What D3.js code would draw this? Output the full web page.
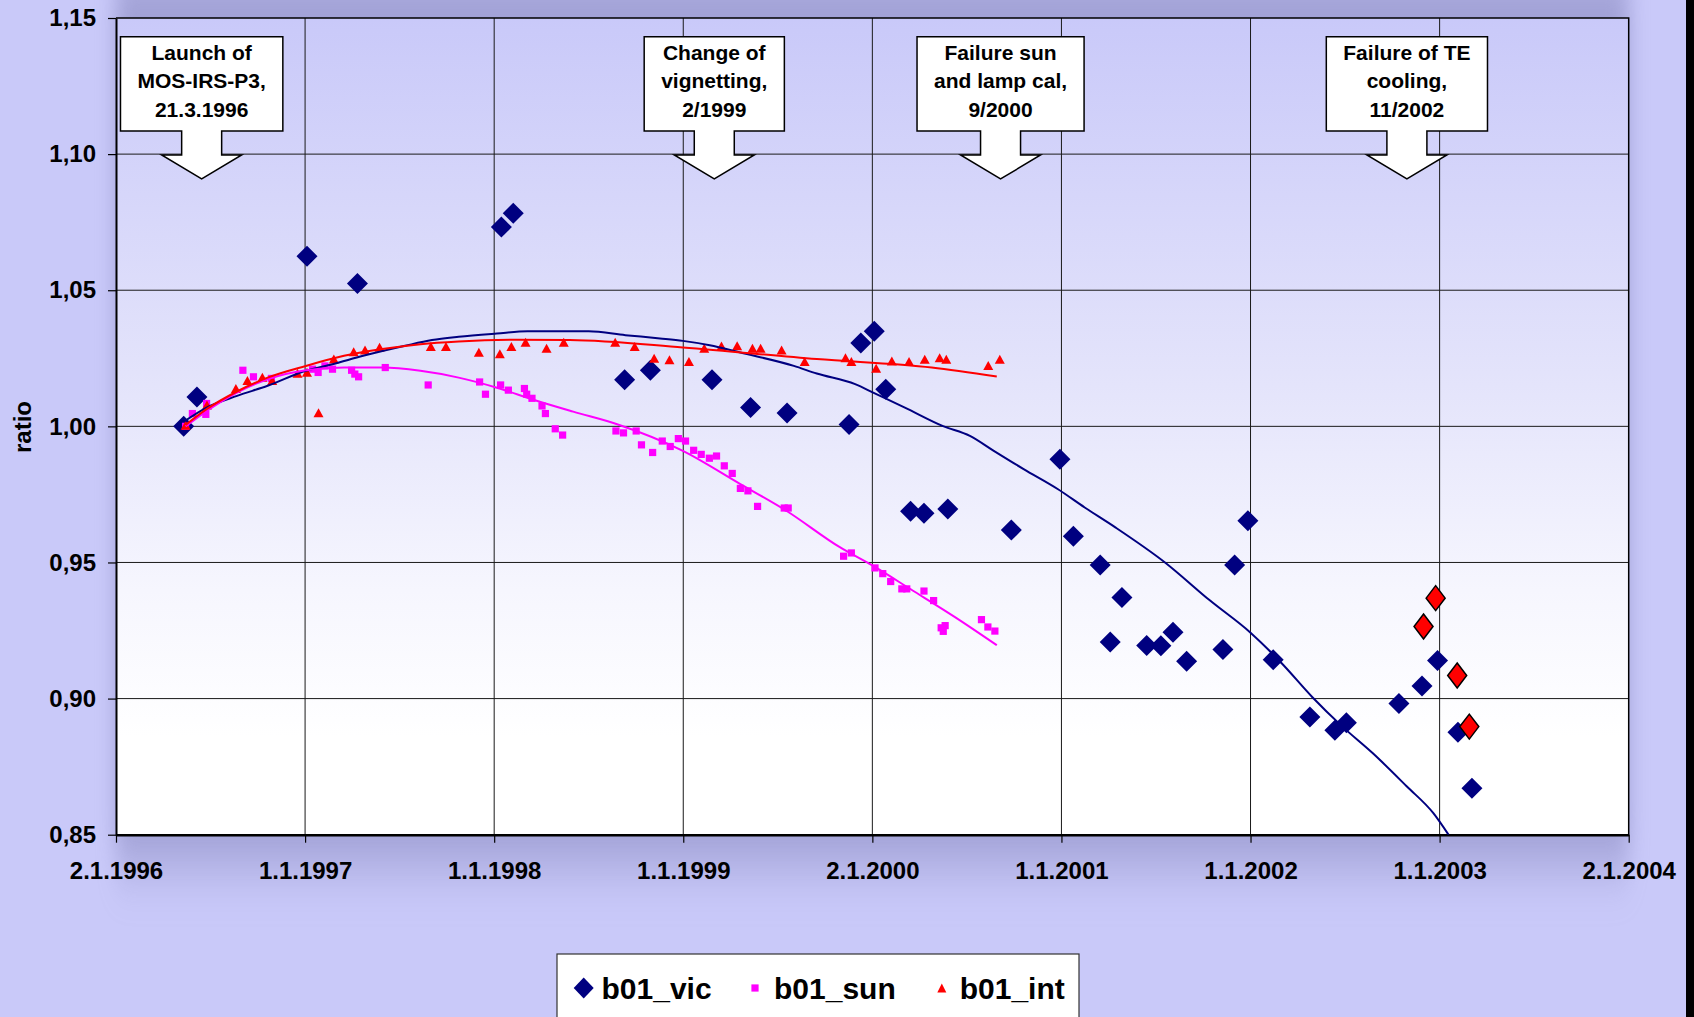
<!DOCTYPE html>
<html>
<head>
<meta charset="utf-8">
<script src="https://cdn.jsdelivr.net/npm/d3@7"></script>
<style>
  html, body { margin: 0; padding: 0; background: #c9c9f9; }
  svg { display: block; }
  text { font-family: "Liberation Sans", Arial, sans-serif; font-weight: bold; fill: #000; }
</style>
</head>
<body>
<svg id="chart" width="1694" height="1017"></svg>
<script>
// ---------------- DATA ----------------
const xTickValues = [1996, 1997, 1998, 1999, 2000, 2001, 2002, 2003, 2004];
const xTickLabels = ["2.1.1996", "1.1.1997", "1.1.1998", "1.1.1999", "2.1.2000",
                     "1.1.2001", "1.1.2002", "1.1.2003", "2.1.2004"];
const yTickValues = [0.85, 0.90, 0.95, 1.00, 1.05, 1.10, 1.15];
const yAxisTitle = "ratio";

// b01_vic : [decimal year, ratio]
const b01_vic = [
  [1996.358, 1.0000], [1996.428, 1.0108], [1997.010, 1.0625], [1997.277, 1.0525],
  [1998.038, 1.0732], [1998.101, 1.0783], [1998.690, 1.0171], [1998.826, 1.0206],
  [1999.152, 1.0171], [1999.356, 1.0069], [1999.549, 1.0049], [1999.877, 1.0007],
  [1999.939, 1.0306], [2000.010, 1.0349], [2000.071, 1.0136], [2000.202, 0.9688],
  [2000.273, 0.9681], [2000.399, 0.9696], [2000.735, 0.9619], [2000.992, 0.9879],
  [2001.063, 0.9596], [2001.205, 0.9491], [2001.320, 0.9371], [2001.258, 0.9208],
  [2001.451, 0.9195], [2001.526, 0.9194], [2001.590, 0.9244], [2001.662, 0.9137],
  [2001.854, 0.9180], [2001.916, 0.9491], [2001.986, 0.9653], [2002.120, 0.9143],
  [2002.314, 0.8932], [2002.446, 0.8884], [2002.507, 0.8911], [2002.785, 0.8982],
  [2002.907, 0.9046], [2002.989, 0.9140], [2003.097, 0.8876], [2003.171, 0.8671]
];
// b01_vic points after failure of TE cooling (highlighted red)
const b01_vic_te = [
  [2002.915, 0.9265], [2002.979, 0.9369], [2003.093, 0.9085], [2003.157, 0.8897]
];
// b01_sun
const b01_sun = [
  [1996.368, 1.0000], [1996.404, 1.0047], [1996.475, 1.0044], [1996.479, 1.0084],
  [1996.671, 1.0206], [1996.727, 1.0182], [1996.822, 1.0176], [1997.040, 1.0210],
  [1997.069, 1.0198], [1997.105, 1.0222], [1997.145, 1.0210], [1997.246, 1.0206],
  [1997.263, 1.0192], [1997.283, 1.0182], [1997.424, 1.0216], [1997.651, 1.0152],
  [1997.923, 1.0163], [1997.954, 1.0118], [1998.034, 1.0152], [1998.075, 1.0133],
  [1998.160, 1.0139], [1998.172, 1.0118], [1998.200, 1.0103], [1998.253, 1.0075],
  [1998.271, 1.0047], [1998.323, 0.9991], [1998.362, 0.9968], [1998.644, 0.9983],
  [1998.684, 0.9976], [1998.751, 0.9983], [1998.779, 0.9932], [1998.838, 0.9904],
  [1998.889, 0.9946], [1998.931, 0.9926], [1998.974, 0.9955], [1999.012, 0.9946],
  [1999.055, 0.9912], [1999.095, 0.9897], [1999.138, 0.9883], [1999.176, 0.9891],
  [1999.217, 0.9855], [1999.259, 0.9827], [1999.302, 0.9772], [1999.342, 0.9763],
  [1999.393, 0.9706], [1999.534, 0.9700], [1999.555, 0.9700], [1999.848, 0.9523],
  [1999.889, 0.9535], [2000.014, 0.9480], [2000.055, 0.9459], [2000.097, 0.9430],
  [2000.156, 0.9403], [2000.182, 0.9403], [2000.273, 0.9395], [2000.324, 0.9360],
  [2000.364, 0.9260], [2000.375, 0.9247], [2000.385, 0.9268], [2000.577, 0.9290],
  [2000.611, 0.9263], [2000.648, 0.9248]
];
// b01_int
const b01_int = [
  [1996.368, 1.0001], [1996.481, 1.0075], [1996.634, 1.0136], [1996.695, 1.0165],
  [1996.774, 1.0177], [1996.826, 1.0165], [1996.960, 1.0192], [1997.010, 1.0195],
  [1997.071, 1.0047], [1997.152, 1.0244], [1997.257, 1.0271], [1997.317, 1.0277],
  [1997.394, 1.0287], [1997.665, 1.0290], [1997.745, 1.0290], [1997.919, 1.0269],
  [1998.030, 1.0263], [1998.091, 1.0290], [1998.166, 1.0306], [1998.277, 1.0284],
  [1998.368, 1.0306], [1998.640, 1.0306], [1998.743, 1.0290], [1998.846, 1.0247],
  [1998.927, 1.0241], [1999.030, 1.0235], [1999.111, 1.0284], [1999.202, 1.0292],
  [1999.285, 1.0293], [1999.366, 1.0284], [1999.409, 1.0284], [1999.520, 1.0277],
  [1999.642, 1.0235], [1999.858, 1.0249], [1999.889, 1.0235], [2000.020, 1.0210],
  [2000.103, 1.0237], [2000.194, 1.0235], [2000.277, 1.0243], [2000.356, 1.0249],
  [2000.391, 1.0243], [2000.613, 1.0220], [2000.674, 1.0243]
];
// trend lines
const vicTrend = [
  [1996.358, 1.0017], [1996.479, 1.0069], [1996.640, 1.0112], [1996.802, 1.0149],
  [1997.004, 1.0204], [1997.145, 1.0228], [1997.307, 1.0259], [1997.529, 1.0296],
  [1997.671, 1.0317], [1997.812, 1.0329], [1998.014, 1.0341], [1998.176, 1.0349],
  [1998.500, 1.0349], [1998.694, 1.0335], [1998.877, 1.0323], [1998.998, 1.0314],
  [1999.140, 1.0298], [1999.302, 1.0271], [1999.585, 1.0222], [1999.706, 1.0194],
  [1999.909, 1.0155], [2000.010, 1.0122], [2000.172, 1.0069], [2000.374, 1.0001],
  [2000.516, 0.9965], [2000.638, 0.9912], [2000.800, 0.9843], [2000.982, 0.9769],
  [2001.123, 0.9702], [2001.285, 0.9629], [2001.546, 0.9501], [2001.786, 0.9360],
  [2002.000, 0.9242], [2002.166, 0.9129], [2002.326, 0.9006], [2002.486, 0.8897],
  [2002.647, 0.8799], [2002.827, 0.8677], [2002.967, 0.8579], [2003.047, 0.8500]
];
const sunTrend = [
  [1996.368, 1.0000], [1996.479, 1.0056], [1996.640, 1.0124], [1996.802, 1.0173],
  [1997.004, 1.0206], [1997.206, 1.0216], [1997.408, 1.0216], [1997.610, 1.0204],
  [1997.812, 1.0179], [1998.014, 1.0142], [1998.216, 1.0096], [1998.418, 1.0054],
  [1998.654, 1.0007], [1998.998, 0.9910], [1999.302, 0.9788], [1999.545, 0.9690],
  [1999.828, 0.9556], [2000.000, 0.9489], [2000.213, 0.9397], [2000.435, 0.9300],
  [2000.658, 0.9196]
];
const intTrend = [
  [1996.368, 1.0005], [1996.479, 1.0063], [1996.640, 1.0128], [1996.802, 1.0179],
  [1997.004, 1.0222], [1997.206, 1.0259], [1997.408, 1.0284], [1997.610, 1.0302],
  [1997.812, 1.0312], [1998.115, 1.0318], [1998.400, 1.0317], [1998.998, 1.0290],
  [1999.706, 1.0247], [2000.314, 1.0216], [2000.658, 1.0183]
];
// event callouts: anchor date (decimal year) + text lines
const eventDates = [1996.453, 1999.164, 2000.678, 2002.827];
const eventTexts = [
  ["Launch of", "MOS-IRS-P3,", "21.3.1996"],
  ["Change of", "vignetting,", "2/1999"],
  ["Failure sun", "and lamp cal,", "9/2000"],
  ["Failure of TE", "cooling,", "11/2002"]
];
const legendNames = ["b01_vic", "b01_sun", "b01_int"];

// ---------------- LAYOUT ----------------
const W = 1694, H = 1017;
const M = { left: 116, top: 18, right: 1628.7, bottom: 834.7 };
const svg = d3.select("#chart");
const x = d3.scaleLinear().domain([1996, 2004]).range([M.left, M.right]);
const y = d3.scaleLinear().domain([0.85, 1.15]).range([M.bottom, M.top]);
const fmtComma = v => d3.format(".2f")(v).replace(".", ",");

const defs = svg.append("defs");
const pg = defs.append("linearGradient").attr("id", "plotGrad")
  .attr("x1", 0).attr("y1", 0).attr("x2", 0).attr("y2", 1);
pg.append("stop").attr("offset", "0%").attr("stop-color", "#c9c9f9");
pg.append("stop").attr("offset", "45%").attr("stop-color", "#e4e4fb");
pg.append("stop").attr("offset", "70%").attr("stop-color", "#f6f6fe");
pg.append("stop").attr("offset", "88%").attr("stop-color", "#ffffff");
pg.append("stop").attr("offset", "100%").attr("stop-color", "#ffffff");
defs.append("filter").attr("id", "blur")
  .attr("x", "-20%").attr("y", "-30%").attr("width", "140%").attr("height", "160%")
  .append("feGaussianBlur").attr("stdDeviation", "10 28");
defs.append("clipPath").attr("id", "plotClip").append("rect")
  .attr("x", M.left).attr("y", M.top).attr("width", M.right - M.left).attr("height", M.bottom - M.top);

// background
svg.append("rect").attr("width", W).attr("height", H).attr("fill", "#c9c9f9");
svg.append("rect").attr("x", M.left).attr("y", -30).attr("width", M.right - M.left)
  .attr("height", M.bottom + 60).attr("fill", "#8080b8").attr("opacity", 0.55)
  .attr("filter", "url(#blur)");
svg.append("rect").attr("x", W - 8).attr("y", 0).attr("width", 8).attr("height", H).attr("fill", "#000");

// plot area
svg.append("rect").attr("x", M.left).attr("y", M.top)
  .attr("width", M.right - M.left).attr("height", M.bottom - M.top).attr("fill", "url(#plotGrad)");

// gridlines
const grid = svg.append("g");
grid.selectAll("line.v").data(xTickValues.slice(1, -1)).join("line")
  .attr("x1", d => x(d)).attr("x2", d => x(d)).attr("y1", M.top).attr("y2", M.bottom)
  .attr("stroke", "#1a1a1a").attr("stroke-width", 1);
grid.selectAll("line.h").data(yTickValues.slice(1, -1)).join("line")
  .attr("y1", d => y(d)).attr("y2", d => y(d)).attr("x1", M.left).attr("x2", M.right)
  .attr("stroke", "#1a1a1a").attr("stroke-width", 1);
// top/right border
svg.append("path").attr("d", `M${M.left},${M.top}H${M.right}V${M.bottom}`)
  .attr("fill", "none").attr("stroke", "#000").attr("stroke-width", 1.5);

// axes
const yAxis = svg.append("g").attr("transform", `translate(${M.left},0)`)
  .call(d3.axisLeft(y).tickValues(yTickValues).tickFormat(fmtComma).tickSize(8).tickSizeOuter(0).tickPadding(12));
const xAxis = svg.append("g").attr("transform", `translate(0,${M.bottom})`)
  .call(d3.axisBottom(x).tickValues(xTickValues).tickFormat((d, i) => xTickLabels[i]).tickSize(8).tickSizeOuter(0).tickPadding(19.5));
[yAxis, xAxis].forEach(g => {
  g.selectAll("text").style("font-size", "24px").style("font-weight", "bold")
    .style("font-family", '"Liberation Sans", Arial, sans-serif').attr("fill", "#000");
  g.selectAll(".tick line").attr("stroke", "#000").attr("stroke-width", 1.2);
});
yAxis.select(".domain").attr("stroke", "#000").attr("stroke-width", 2);
xAxis.select(".domain").attr("stroke", "#000").attr("stroke-width", 2.5);

svg.append("text").attr("transform", `translate(31,427) rotate(-90)`)
  .attr("text-anchor", "middle").style("font-size", "24px").text(yAxisTitle);

// callouts
const boxTop = 36.7, boxBot = 131, wingY = 155, tipY = 179;
eventDates.forEach((d, i) => {
  const cx = x(d);
  const g = svg.append("g");
  const path = g.append("path");
  const texts = g.selectAll("text").data(eventTexts[i]).join("text")
    .attr("x", cx).attr("y", (t, k) => 59.8 + k * 28.5)
    .attr("text-anchor", "middle").style("font-size", "21px").text(t => t);
  let maxW = 0;
  texts.each(function () { maxW = Math.max(maxW, this.getComputedTextLength()); });
  const half = (maxW + 34) / 2, sh = 20, hh = 40;
  path.attr("d", `M${cx - half},${boxTop}H${cx + half}V${boxBot}H${cx + sh}V${wingY}H${cx + hh}` +
    `L${cx},${tipY}L${cx - hh},${wingY}H${cx - sh}V${boxBot}H${cx - half}Z`)
    .attr("fill", "#fff").attr("stroke", "#000").attr("stroke-width", 1.5).attr("stroke-linejoin", "miter");
});

// markers
const plot = svg.append("g").attr("clip-path", "url(#plotClip)");
const diamond = (w, h) => `M0,${-h}L${w},0L0,${h}L${-w},0Z`;
const tri = (w, h) => `M0,${-h * 0.6}L${w},${h * 0.4}L${-w},${h * 0.4}Z`;

plot.append("g").selectAll("path").data(b01_vic).join("path")
  .attr("transform", d => `translate(${x(d[0])},${y(d[1])})`)
  .attr("d", diamond(10.5, 10.5)).attr("fill", "#000080");
plot.append("g").selectAll("rect").data(b01_sun).join("rect")
  .attr("x", d => x(d[0]) - 3.6).attr("y", d => y(d[1]) - 3.6)
  .attr("width", 7.2).attr("height", 7.2).attr("fill", "#ff00ff");
plot.append("g").selectAll("path").data(b01_int).join("path")
  .attr("transform", d => `translate(${x(d[0])},${y(d[1])})`)
  .attr("d", tri(5, 9)).attr("fill", "#ff0000");
plot.append("g").selectAll("path").data(b01_vic_te).join("path")
  .attr("transform", d => `translate(${x(d[0])},${y(d[1])})`)
  .attr("d", diamond(9.5, 12.5)).attr("fill", "#ff0000").attr("stroke", "#000").attr("stroke-width", 1.5);

// trend lines
const line = d3.line().x(d => x(d[0])).y(d => y(d[1])).curve(d3.curveMonotoneX);
[[vicTrend, "#000080"], [sunTrend, "#ff00ff"], [intTrend, "#ff0000"]].forEach(([data, c]) => {
  plot.append("path").datum(data).attr("d", line).attr("fill", "none")
    .attr("stroke", c).attr("stroke-width", 2);
});

// legend
const lg = svg.append("g");
lg.append("rect").attr("x", 557).attr("y", 954).attr("width", 522).attr("height", 90)
  .attr("fill", "#fff").attr("stroke", "#333").attr("stroke-width", 1.2);
const legX = [583.7, 755, 941.8];
const legTextX = [601.5, 774, 959.7];
const legY = 988;
lg.append("path").attr("transform", `translate(${legX[0]},${legY})`).attr("d", diamond(10, 10.5)).attr("fill", "#000080");
lg.append("rect").attr("x", legX[1] - 3.6).attr("y", legY - 3.6).attr("width", 7.2).attr("height", 7.2).attr("fill", "#ff00ff");
lg.append("path").attr("transform", `translate(${legX[2]},${legY + 1})`).attr("d", tri(4.5, 9)).attr("fill", "#ff0000");
lg.selectAll("text").data(legendNames).join("text")
  .attr("x", (d, i) => legTextX[i]).attr("y", legY + 10.5)
  .style("font-size", "30px").text(d => d);
</script>
</body>
</html>
